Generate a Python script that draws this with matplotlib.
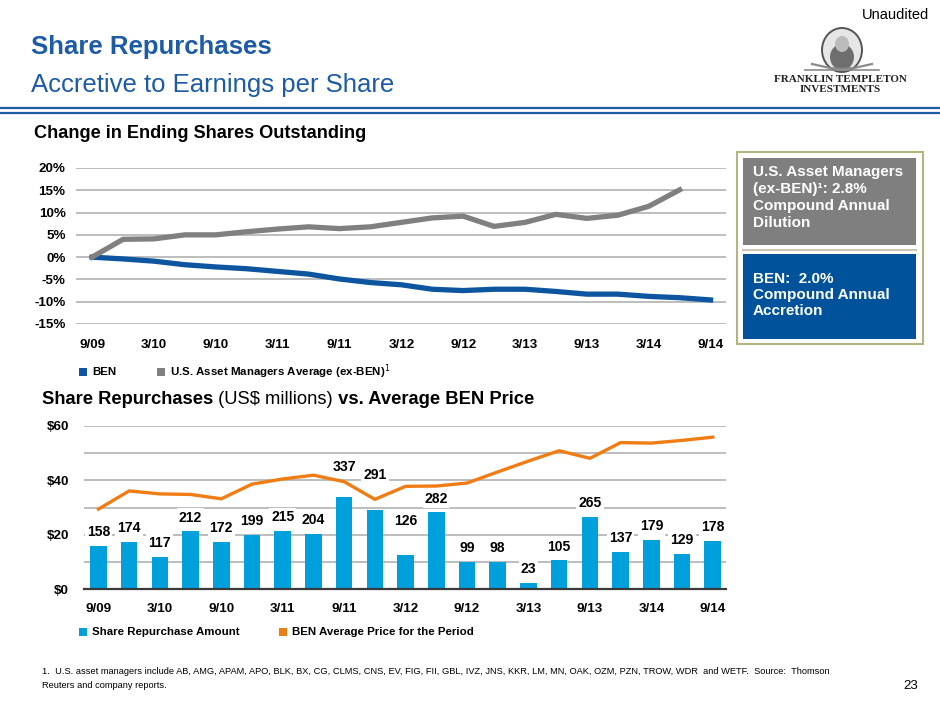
import numpy as np
import matplotlib
matplotlib.use("Agg")
import matplotlib.pyplot as plt
from matplotlib import font_manager as fm
from matplotlib.patches import Rectangle, Ellipse

# ---- data ----
tick_labels = ['9/09', '3/10', '9/10', '3/11', '9/11', '3/12', '9/12', '3/13', '9/13', '3/14', '9/14']

# change in ending shares outstanding (%), quarterly 9/09 .. 9/14
ben_change = [0.0, -0.4, -0.9, -1.7, -2.2, -2.6, -3.2, -3.8, -4.9, -5.7, -6.2,
              -7.2, -7.5, -7.2, -7.2, -7.7, -8.3, -8.3, -8.8, -9.1, -9.6]
peer_change = [0.0, 4.0, 4.1, 5.0, 5.0, 5.7, 6.3, 6.8, 6.4, 6.8, 7.8,
               8.8, 9.2, 6.9, 7.8, 9.6, 8.7, 9.4, 11.4, 15.1]

# share repurchases (US$ millions) and average BEN price per quarter
repurchases = [158, 174, 117, 212, 172, 199, 215, 204, 337, 291, 126,
               282, 99, 98, 23, 105, 265, 137, 179, 129, 178]
avg_price = [29.4, 36.1, 35.0, 34.8, 33.2, 38.6, 40.5, 41.9, 39.5, 33.0, 37.8,
             37.9, 39.0, 43.1, 47.1, 50.9, 48.1, 53.9, 53.7, 54.7, 55.9]

top_series = ['BEN', 'U.S. Asset Managers Average (ex-BEN)$^1$']
bottom_series = ['Share Repurchase Amount', 'BEN Average Price for the Period']

footnote = ['1.  U.S. asset managers include AB, AMG, APAM, APO, BLK, BX, CG, CLMS, CNS, EV, FIG, FII, GBL, IVZ, '
            'JNS, KKR, LM, MN, OAK, OZM, PZN, TROW, WDR  and WETF.  Source:  Thomson',
            'Reuters and company reports.']

# ---- styling ----
title_blue = '#1d5ba4'
ben_blue = '#0d559f'
peer_gray = '#808080'
bar_blue = '#00a0dc'
orange = '#f07d14'
grid_c = '#bdbdbd'
plt.rcParams['font.family'] = ['Liberation Sans', 'DejaVu Sans']

# the slide uses Arial Narrow; use it if there, else plain Arial-metric shrunk a bit
installed = {f.name for f in fm.fontManager.ttflist}
if 'Liberation Sans Narrow' in installed:
    narrow, nscale = ['Liberation Sans Narrow', 'DejaVu Sans'], 1.0
else:
    narrow, nscale = ['Liberation Sans', 'DejaVu Sans'], 0.92

# labels that sit higher than the default lift (points)
label_lift = {8: 22, 9: 25, 10: 24.5}

fig = plt.figure(figsize=(9.4, 7.05), dpi=100)

# overlay in pixel coords for the slide furniture
deco = fig.add_axes([0, 0, 1, 1])
deco.set_xlim(0, 940)
deco.set_ylim(705, 0)
deco.axis('off')

deco.text(929, 15, 'Unaudited', ha='right', va='center', fontsize=10.5)
deco.text(31, 47, 'Share Repurchases', fontsize=18.5, weight='bold', color=title_blue, va='center')
deco.text(31, 85, 'Accretive to Earnings per Share', fontsize=18.5, color=title_blue, va='center')
deco.plot([0, 940], [107.5, 107.5], color=title_blue, lw=1.6)
deco.plot([0, 940], [112.5, 112.5], color=title_blue, lw=1.6)

# logo (rough)
deco.add_patch(Ellipse((842, 50), 40, 44, fc='#e6e6e6', ec='#555555', lw=1.4))
deco.add_patch(Ellipse((842, 57), 24, 26, fc='#6e6e6e', ec='none'))
deco.add_patch(Ellipse((842, 44), 14, 16, fc='#bcbcbc', ec='none'))
deco.plot([805, 879], [70, 70], color='#8a8a8a', lw=1.2)
deco.plot([812, 830, 842, 854, 872], [64, 68, 69, 68, 64], color='#8a8a8a', lw=1.6)
deco.text(840, 79, 'FRANKLIN TEMPLETON', ha='center', va='center', fontsize=8,
          weight='bold', family=['Liberation Serif', 'DejaVu Serif'], color='#222222')
deco.text(840, 90, 'INVESTMENTS', ha='center', va='center', fontsize=8,
          weight='bold', family=['Liberation Serif', 'DejaVu Serif'], color='#222222')

deco.text(34, 134, 'Change in Ending Shares Outstanding', fontsize=13.1, weight='bold', va='center')

t1 = deco.text(42, 399, 'Share Repurchases', fontsize=13.2, weight='bold', va='center')
t2 = deco.annotate(' (US$ millions)', xy=(1, 0), xycoords=t1, va='bottom', fontsize=13.2)
deco.annotate(' vs. Average BEN Price', xy=(1, 0), xycoords=t2, va='bottom', fontsize=13.2, weight='bold')

# side boxes
deco.add_patch(Rectangle((737, 152), 186, 192, fc='none', ec='#b3b57c', lw=1.5))
deco.add_patch(Rectangle((743, 158), 173, 87, fc='#7f7f7f', ec='none'))
deco.plot([743, 916], [249.5, 249.5], color='#cfc6b5', lw=1.5)
deco.add_patch(Rectangle((743, 254), 173, 85, fc='#00529b', ec='none'))
deco.text(753, 165, 'U.S. Asset Managers\n(ex-BEN)\u00b9: 2.8%\nCompound Annual\nDilution',
          color='white', weight='bold', fontsize=11, va='top', linespacing=1.27)
deco.text(753, 272, 'BEN:  2.0%\nCompound Annual\nAccretion',
          color='white', weight='bold', fontsize=11, va='top', linespacing=1.2)

# footnote, sized to the width it takes on the slide
fn1 = deco.text(42, 671, footnote[0], fontsize=8, family=narrow, va='center')
r = fig.canvas.get_renderer()
fsize = 8 * 786 / fn1.get_window_extent(r).width
fn1.set_fontsize(fsize)
deco.text(42, 686, footnote[1], fontsize=fsize, family=narrow, va='center')
deco.text(918, 686, '23', fontsize=10.5 * nscale, family=narrow, va='center', ha='right')

# ---- top chart ----
ax1 = fig.add_axes([76 / 940, 1 - 324 / 705, 650 / 940, 156 / 705])
q = np.arange(len(ben_change))
ax1.plot(q, ben_change, color=ben_blue, lw=3.8, zorder=3)
ax1.plot(q[:len(peer_change)], peer_change, color=peer_gray, lw=3.8, zorder=3)
ax1.set_xlim(-0.52, 20.5)
ax1.set_ylim(-15, 20)
ax1.set_yticks(np.arange(-15, 25, 5))
ax1.set_yticklabels([f'{v}%' for v in range(-15, 25, 5)])
ax1.set_xticks(q[::2])
ax1.set_xticklabels(tick_labels)
ax1.grid(axis='y', color=grid_c, lw=1.4)
ax1.set_axisbelow(True)
for s in ax1.spines.values():
    s.set_visible(False)
ax1.tick_params(length=0, labelsize=10.5 * nscale, pad=11)
ax1.tick_params(axis='y', pad=7.5)
for lab in ax1.get_xticklabels() + ax1.get_yticklabels():
    lab.set_family(narrow)
    lab.set_weight('bold')

for xs, col, name in [(79, ben_blue, top_series[0]), (157, peer_gray, top_series[1])]:
    deco.add_patch(Rectangle((xs, 368), 8, 8, fc=col, ec='none'))
    deco.text(xs + 13, 372, name, fontsize=9 * nscale, weight='bold', family=narrow, va='center')

# ---- bottom chart ----
axb = fig.add_axes([84 / 940, 1 - 589 / 705, 642 / 940, 163 / 705])
axp = axb.twinx()
axp.yaxis.tick_left()
b = np.arange(len(repurchases))
axb.bar(b, repurchases, width=0.54, color=bar_blue, zorder=2)
axb.set_ylim(0, 600)
axb.set_yticks(np.arange(0, 700, 100))
axb.set_yticklabels([])
axb.grid(axis='y', color=grid_c, lw=1.4)
axb.set_axisbelow(True)
axb.set_xlim(-0.47, 20.43)
axb.set_xticks(b[::2])
axb.set_xticklabels(tick_labels)
for i, v in enumerate(repurchases):
    axb.annotate(str(v), xy=(i, v), xytext=(0, label_lift.get(i, 10)), textcoords='offset points',
                 ha='center', va='center', fontsize=11 * nscale, weight='bold', family=narrow, zorder=4,
                 bbox=dict(boxstyle='square,pad=0.15', fc='white', ec='none'))

axp.plot(b, avg_price, color=orange, lw=2.4)
axp.set_ylim(0, 60)
axp.set_yticks([0, 20, 40, 60])
axp.set_yticklabels([f'${v}' for v in [0, 20, 40, 60]])

for a in (axb, axp):
    for s in a.spines.values():
        s.set_visible(False)
    a.tick_params(length=0, labelsize=10.5 * nscale)
axb.spines['bottom'].set_visible(True)
axb.spines['bottom'].set_color('#3a3a3a')
axb.spines['bottom'].set_linewidth(1.6)
axb.tick_params(axis='x', pad=10)
axp.tick_params(axis='y', pad=11)
for lab in axb.get_xticklabels() + axp.get_yticklabels():
    lab.set_family(narrow)
    lab.set_weight('bold')

for xs, col, name in [(79, bar_blue, bottom_series[0]), (279, orange, bottom_series[1])]:
    deco.add_patch(Rectangle((xs, 628), 8, 8, fc=col, ec='none'))
    deco.text(xs + 13, 632, name, fontsize=9 * nscale, weight='bold', family=narrow, va='center')

fig.savefig('out.png', dpi=100)
